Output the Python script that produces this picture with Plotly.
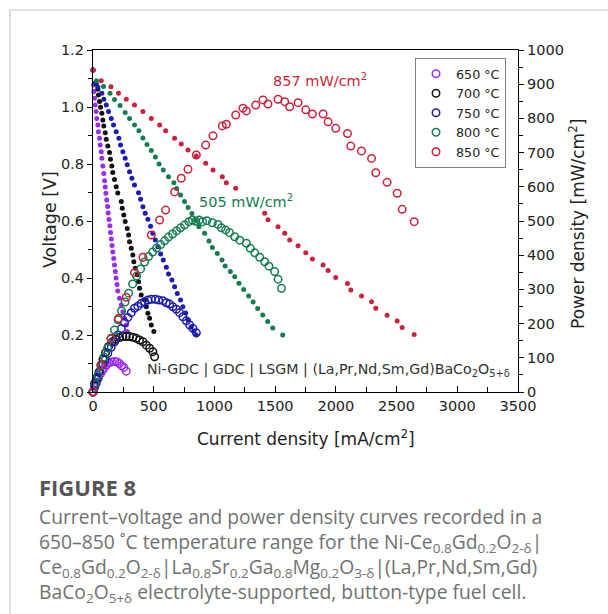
import plotly.graph_objects as go

# ---------------- data ----------------
temps = ["650 °C", "700 °C", "750 °C", "800 °C", "850 °C"]
colors = ["#9a2cf0", "#111111", "#1c1cb0", "#137d4f", "#d01f3a"]

# current density [mA/cm2] and voltage [V]
i_v_650 = [0, 4, 7, 12, 18, 26, 31, 40, 45, 54, 59, 68, 73, 81, 89, 95, 101, 106, 113, 120,
           125, 132, 139, 144, 151, 157, 163, 171, 177, 184, 190, 198, 204, 218, 233, 246, 260, 274, 282]
v_650 = [1.130, 1.077, 1.054, 1.031, 1.007, 0.984, 0.960, 0.937, 0.913, 0.890, 0.867, 0.843, 0.820,
         0.793, 0.767, 0.741, 0.719, 0.697, 0.674, 0.651, 0.628, 0.605, 0.583, 0.560, 0.537, 0.514,
         0.491, 0.468, 0.446, 0.423, 0.400, 0.377, 0.354, 0.329, 0.305, 0.282, 0.259, 0.235, 0.212]

i_v_700 = [0, 26, 40, 45, 54, 62, 73, 81, 89, 101, 109, 122, 136, 144, 155, 163, 177, 191, 204,
           233, 241, 254, 265, 282, 293, 301, 315, 328, 336, 348, 364, 375, 383, 397, 425, 439,
           452, 466, 480, 501]
v_700 = [1.130, 1.081, 1.062, 1.042, 1.019, 0.999, 0.978, 0.954, 0.933, 0.910, 0.887, 0.863, 0.840,
         0.817, 0.793, 0.770, 0.746, 0.720, 0.698, 0.668, 0.645, 0.621, 0.598, 0.574, 0.551, 0.527,
         0.504, 0.481, 0.457, 0.434, 0.411, 0.387, 0.364, 0.340, 0.323, 0.299, 0.276, 0.259, 0.235, 0.212]

i_v_750 = [0, 18, 40, 73, 89, 109, 128, 150, 169, 191, 213, 227, 246, 265, 282, 301, 320, 342,
           375, 392, 411, 430, 452, 474, 493, 513, 534, 557, 579, 604, 622, 650, 672, 694, 721,
           740, 763, 785, 808, 829, 851]
v_750 = [1.130, 1.085, 1.069, 1.048, 1.027, 1.007, 0.984, 0.960, 0.937, 0.913, 0.890, 0.867, 0.843,
         0.820, 0.797, 0.773, 0.750, 0.726, 0.699, 0.676, 0.650, 0.627, 0.606, 0.582, 0.557, 0.533,
         0.510, 0.484, 0.463, 0.438, 0.414, 0.393, 0.369, 0.346, 0.323, 0.299, 0.277, 0.253, 0.228,
         0.214, 0.200]

i_v_800 = [0, 29, 87, 140, 177, 223, 265, 301, 342, 378, 411, 445, 480, 514, 544, 579, 622, 666,
           688, 721, 754, 783, 815, 845, 872, 919, 955, 983, 1024, 1062, 1088, 1131, 1167, 1202,
           1241, 1282, 1319, 1356, 1398, 1439, 1480, 1562]
v_800 = [1.130, 1.092, 1.072, 1.048, 1.026, 1.005, 0.981, 0.960, 0.937, 0.917, 0.891, 0.868, 0.847,
         0.825, 0.800, 0.779, 0.755, 0.734, 0.714, 0.691, 0.668, 0.647, 0.626, 0.602, 0.580, 0.557,
         0.530, 0.507, 0.486, 0.463, 0.442, 0.423, 0.404, 0.382, 0.360, 0.337, 0.316, 0.293, 0.270,
         0.247, 0.225, 0.200]

i_v_850 = [0, 68, 148, 210, 274, 342, 411, 480, 549, 598, 672, 727, 782, 851, 928, 988, 1065, 1098,
           1175, 1414, 1441, 1524, 1579, 1620, 1689, 1752, 1807, 1895, 1936, 1999, 2096, 2123,
           2211, 2294, 2329, 2422, 2505, 2546, 2645]
v_850 = [1.130, 1.092, 1.071, 1.048, 1.027, 1.007, 0.984, 0.960, 0.937, 0.917, 0.890, 0.870, 0.849,
         0.828, 0.803, 0.779, 0.755, 0.734, 0.715, 0.627, 0.604, 0.580, 0.557, 0.533, 0.513, 0.489,
         0.467, 0.446, 0.426, 0.402, 0.381, 0.358, 0.337, 0.317, 0.294, 0.269, 0.249, 0.226, 0.202]

# current density [mA/cm2] and power density [mW/cm2]
i_p_650 = [0, 12, 29, 45, 62, 78, 95, 111, 132, 153, 177, 198, 218, 235, 254, 274]
p_650 = [0, 13, 26, 41, 53, 63, 72, 79, 85, 88, 89, 88, 83, 77, 72, 61]

i_p_700 = [0, 16, 33, 49, 66, 82, 103, 128, 157, 186, 218, 246, 274, 301, 328, 356, 383, 411,
           439, 466, 493, 507]
p_700 = [0, 18, 38, 58, 79, 96, 115, 133, 146, 154, 159, 162, 162, 162, 160, 157, 152, 147,
         137, 128, 118, 103]

i_p_750 = [0, 12, 35, 54, 81, 101, 122, 150, 177, 204, 233, 260, 287, 315, 342, 369, 397, 425,
           452, 480, 513, 540, 576, 604, 631, 658, 686, 713, 740, 768, 796, 823, 851]
p_750 = [0, 25, 43, 59, 79, 94, 113, 131, 147, 167, 186, 203, 218, 232, 245, 251, 259, 264,
         269, 271, 271, 269, 267, 261, 257, 249, 242, 232, 220, 208, 196, 186, 173]

i_p_800 = [0, 21, 41, 66, 91, 120, 148, 177, 206, 235, 264, 293, 326, 359, 392, 425, 458, 491,
           524, 557, 590, 622, 655, 688, 721, 754, 790, 818, 845, 874, 903, 938, 983, 1029, 1057,
           1092, 1125, 1167, 1208, 1263, 1296, 1332, 1373, 1414, 1449, 1496, 1524, 1552]
p_800 = [0, 23, 50, 76, 102, 129, 155, 181, 211, 237, 263, 289, 316, 339, 360, 380, 396, 409,
         421, 431, 442, 453, 462, 471, 480, 488, 498, 503, 499, 503, 498, 501, 495, 490, 480,
         474, 466, 454, 444, 435, 420, 407, 394, 381, 368, 352, 330, 303]

i_p_850 = [0, 68, 148, 210, 274, 342, 411, 480, 549, 598, 672, 727, 782, 851, 928, 988, 1065,
           1098, 1175, 1235, 1263, 1340, 1400, 1441, 1524, 1579, 1620, 1689, 1752, 1807, 1895,
           1936, 1999, 2096, 2123, 2211, 2294, 2329, 2422, 2505, 2546, 2645]
p_850 = [0, 79, 157, 215, 277, 349, 394, 459, 503, 532, 585, 625, 651, 693, 722, 749, 778, 783,
         810, 830, 822, 839, 854, 842, 856, 849, 834, 846, 825, 813, 813, 790, 771, 756, 719,
         705, 683, 641, 613, 581, 534, 498]

x_ticks = [0, 500, 1000, 1500, 2000, 2500, 3000, 3500]
v_ticks = [0.0, 0.2, 0.4, 0.6, 0.8, 1.0, 1.2]
p_ticks = [0, 100, 200, 300, 400, 500, 600, 700, 800, 900, 1000]

cell_label = "Ni-GDC | GDC | LSGM | (La,Pr,Nd,Sm,Gd)BaCo<sub>2</sub>O<sub>5+δ</sub>"
peak_labels = ["857 mW/cm<sup>2</sup>", "505 mW/cm<sup>2</sup>"]
caption_title = "FIGURE 8"
caption_lines = [
    "Current–voltage and power density curves recorded in a",
    "650–850 ˚C temperature range for the Ni-Ce<sub>0.8</sub>Gd<sub>0.2</sub>O<sub>2-δ</sub>|",
    "Ce<sub>0.8</sub>Gd<sub>0.2</sub>O<sub>2-δ</sub>|La<sub>0.8</sub>Sr<sub>0.2</sub>Ga<sub>0.8</sub>Mg<sub>0.2</sub>O<sub>3-δ</sub>|(La,Pr,Nd,Sm,Gd)",
    "BaCo<sub>2</sub>O<sub>5+δ</sub> electrolyte-supported, button-type fuel cell.",
]

# ---------------- figure ----------------
W, H = 608, 614
ML, MR, MT, MB = 93, 90, 50, 222
PW, PH = W - ML - MR, H - MT - MB


def px(x):
    return (x - ML) / PW


def py(y):
    return (H - MB - y) / PH


FONT = "DejaVu Sans, Verdana, sans-serif"
fig = go.Figure()

iv = [(i_v_650, v_650), (i_v_700, v_700), (i_v_750, v_750), (i_v_800, v_800), (i_v_850, v_850)]
ip = [(i_p_650, p_650), (i_p_700, p_700), (i_p_750, p_750), (i_p_800, p_800), (i_p_850, p_850)]

for k in range(5):
    fig.add_trace(go.Scatter(
        x=iv[k][0], y=iv[k][1], mode="markers", showlegend=False, cliponaxis=False,
        marker=dict(symbol="circle", size=5, color=colors[k]), yaxis="y"))
for k in range(5):
    fig.add_trace(go.Scatter(
        x=ip[k][0], y=ip[k][1], mode="markers", name=temps[k], cliponaxis=False,
        marker=dict(symbol="circle-open", size=7.5, color=colors[k], line=dict(width=1.5)),
        yaxis="y2"))

axis_common = dict(showline=True, linecolor="black", linewidth=1.3, showgrid=False,
                   zeroline=False, tickcolor="black", tickwidth=1.2,
                   tickfont=dict(family=FONT, size=14.5, color="#222"), automargin=False)

fig.update_layout(
    width=W, height=H, template="none",
    paper_bgcolor="white", plot_bgcolor="white",
    margin=dict(l=ML, r=MR, t=MT, b=MB, pad=0),
    font=dict(family=FONT, color="#222"),
    xaxis=dict(range=[0, 3500], tickvals=x_ticks, ticks="inside", ticklen=6, mirror=True,
               minor=dict(dtick=250, ticks="inside", ticklen=5, tickcolor="black"),
               **axis_common),
    yaxis=dict(range=[0, 1.2], tickvals=v_ticks, tickformat=".1f", ticks="outside", ticklen=5,
               minor=dict(dtick=0.1, ticks="outside", ticklen=4, tickcolor="black"),
               **axis_common),
    yaxis2=dict(range=[0, 1000], tickvals=p_ticks, ticks="outside", ticklen=5, overlaying="y",
                side="right",
                minor=dict(dtick=50, ticks="outside", ticklen=4, tickcolor="black"),
                **axis_common),
    showlegend=True,
    legend=dict(x=px(415), y=py(58), xanchor="left", yanchor="top", bgcolor="white",
                bordercolor="#808080", borderwidth=1,
                font=dict(family=FONT, size=12.7, color="#222"), tracegroupgap=0,
                itemwidth=30),
)

ann = []
ann.append(dict(text="Voltage [V]", x=px(50), y=py(220), textangle=-90,
                font=dict(family=FONT, size=17.5, color="#222")))
ann.append(dict(text="Power density [mW/cm<sup>2</sup>]", x=px(577), y=py(224), textangle=-90,
                font=dict(family=FONT, size=17, color="#222")))
ann.append(dict(text="Current density [mA/cm<sup>2</sup>]", x=px(306), y=py(438),
                font=dict(family=FONT, size=17, color="#222")))
ann.append(dict(text=peak_labels[0], x=px(320), y=py(80),
                font=dict(family=FONT, size=14.5, color=colors[4])))
ann.append(dict(text=peak_labels[1], x=px(246), y=py(201),
                font=dict(family=FONT, size=14.5, color=colors[3])))
ann.append(dict(text=cell_label, x=px(145), y=py(370), xanchor="left",
                font=dict(family=FONT, size=14.2, color="#333")))
ann.append(dict(text="<b>" + caption_title + "</b>", x=px(37), y=py(487), xanchor="left",
                font=dict(family="Open Sans", size=22, color="#555")))
ann.append(dict(text="<br>".join(caption_lines), x=px(37), y=py(554.5), xanchor="left",
                align="left", font=dict(family="Open Sans", size=19.3, color="#717171")))
for a in ann:
    a.update(xref="paper", yref="paper", showarrow=False)
    a.setdefault("xanchor", "center")
    a.setdefault("yanchor", "middle")
fig.update_layout(annotations=ann)

# card border of the figure panel
fig.add_shape(type="rect", xref="paper", yref="paper", x0=px(10), y0=py(10), x1=px(720),
              y1=py(720), line=dict(color="#c8c8c8", width=1.2), fillcolor="rgba(0,0,0,0)",
              layer="below")

fig.write_html("out.html", config={"displayModeBar": False},
               post_script="document.body.style.margin='0';document.body.style.overflow='hidden';")
